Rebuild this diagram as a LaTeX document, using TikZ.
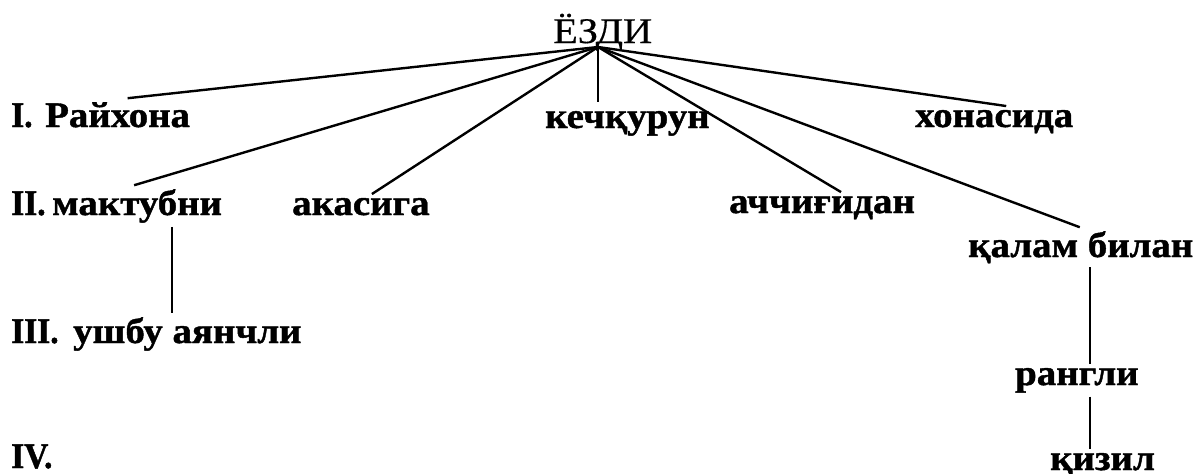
\documentclass[tikz,border=0pt]{standalone}
\usepackage{fontspec}
\setmainfont{Liberation Serif}[FakeStretch=1.08,BoldFeatures={FakeBold=1.2}]
\newfontfamily\numfont{Liberation Serif}[FakeStretch=0.93,BoldFeatures={FakeBold=1.2}]
\newfontfamily\rootfont{Liberation Serif}[FakeStretch=1.12,FakeBold=0.4]
\usetikzlibrary{calc}
\begin{document}
\begin{tikzpicture}[x=1pt,y=-1pt,
  lbl/.style={anchor=base west,inner sep=0pt,outer ysep=4pt,font=\fontsize{36}{36}\selectfont\bfseries},
  num/.style={anchor=base west,inner sep=0pt,font=\numfont\fontsize{36}{36}\selectfont\bfseries},
  root/.style={anchor=base west,inner sep=0pt,font=\rootfont\fontsize{36}{36}\selectfont},
  edge/.style={line width=2.4pt}]
\useasboundingbox (0,0) rectangle (1200,474);
\node[root] (top) at (553,43) {ЁЗДИ};
\coordinate (hub) at (598,47);
% level labels
\node[num] (l1) at (11,127) {I.};
\node[num] (l2) at (11,215) {II.};
\node[num] (l3) at (11,343) {III.};
\node[num] (l4) at (11,468) {IV.};
% words
\node[lbl] (rai) at (45,127) {Райхона};
\node[lbl] (kech) at (545,128) {кечқурун};
\node[lbl] (xon) at (915,127) {хонасида};
\node[lbl] (mak) at (52,215) {мактубни};
\node[lbl] (aka) at (292,215) {акасига};
\node[lbl] (ach) at (729,213) {аччиғидан};
\node[lbl] (qal) at (968,257) {қалам билан};
\node[lbl] (ush) at (73,343) {ушбу аянчли};
\node[lbl] (ran) at (1015,385) {рангли};
\node[lbl] (qiz) at (1050,470) {қизил};
% connectors
\draw[edge] (hub) -- ([xshift=10pt]rai.north);
\draw[edge] (hub) -- ([xshift=-3pt]mak.north);
\draw[edge] (hub) -- ([xshift=11pt]aka.north);
\draw[edge] (hub) -- ([yshift=5pt]hub |- kech.north);
\draw[edge] (hub) -- ([xshift=19pt]ach.north);
\draw[edge] (hub) -- ([xshift=-1pt]qal.north);
\draw[edge] (hub) -- ([xshift=12pt]xon.north);
\coordinate (mx) at (172,0);
\draw[edge] (mx |- mak.south) -- (mx |- ush.north);
\coordinate (qx) at (1090,0);
\draw[edge] (qx |- qal.south) -- (qx |- ran.north);
\draw[edge] (qx |- ran.south) -- (qx |- qiz.north);
\end{tikzpicture}
\end{document}
